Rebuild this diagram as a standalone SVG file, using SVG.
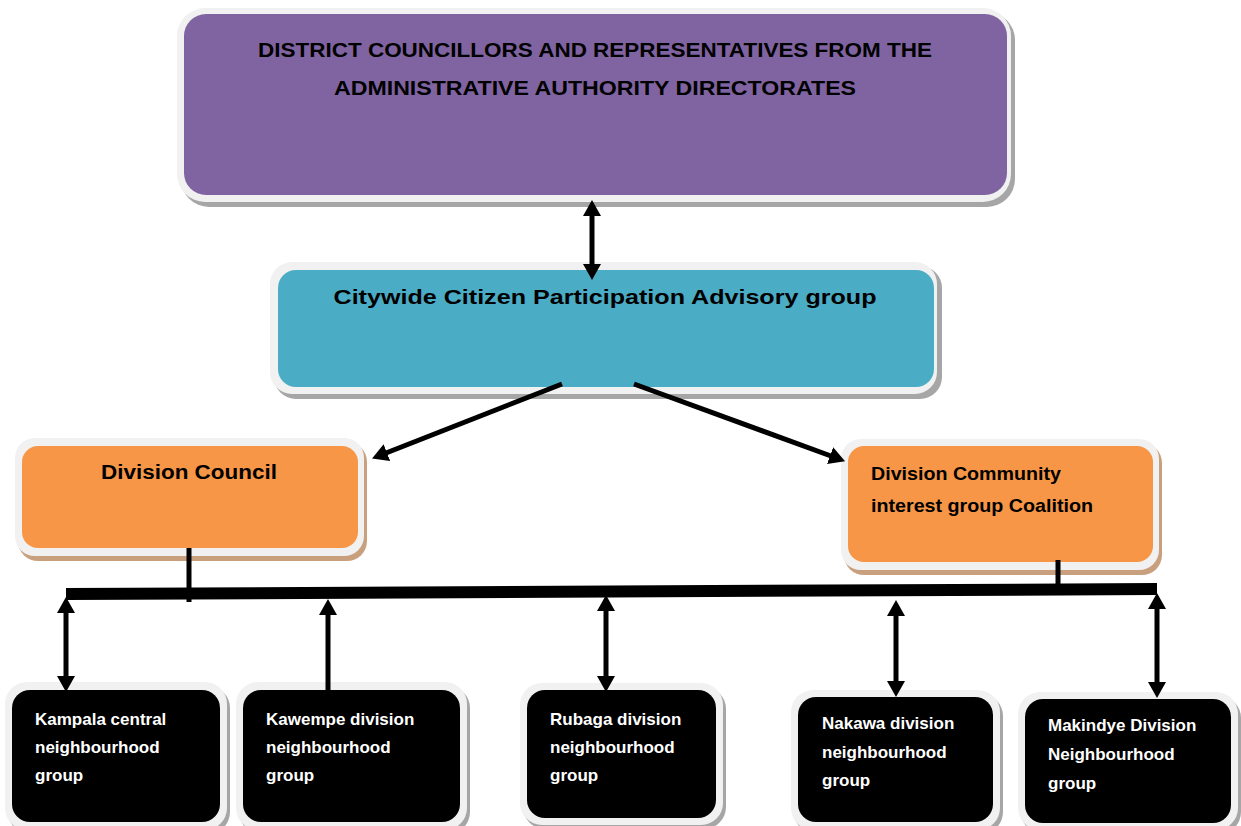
<svg xmlns="http://www.w3.org/2000/svg" width="1241" height="826" viewBox="0 0 1241 826">
<style>
.rim{fill:#f1f1f1}
.shg{fill:#a6a6a6}
.sho{fill:#c9a07e}
.t1{font-family:"Liberation Sans",Arial,sans-serif;font-weight:bold;fill:#000}
.t2{font-family:"Liberation Sans",Arial,sans-serif;font-weight:bold;fill:#fff;font-size:17px}
.ln{stroke:#000;stroke-width:5;fill:none}
.arr{stroke:#000;stroke-width:5;fill:none;marker-end:url(#ah)}
.arr2{stroke:#000;stroke-width:5;fill:none;marker-start:url(#ah);marker-end:url(#ah)}
</style>
<defs>
<marker id="ah" markerUnits="userSpaceOnUse" markerWidth="17" markerHeight="18" refX="1" refY="9" orient="auto-start-reverse" viewBox="0 0 17 18">
<path d="M0,0 L16,9 L0,18 z" fill="#000"/>
</marker>
</defs>
<rect width="1241" height="826" fill="#fff"/>

<g id="district">
<rect class="shg" x="181" y="12" width="834" height="195" rx="28"/>
<rect class="rim" x="177" y="8" width="834" height="194" rx="28"/>
<rect x="184" y="14" width="823" height="181" rx="22" fill="#8064a2"/>
<text class="t1" font-size="20" x="595" y="57" text-anchor="middle" textLength="674" lengthAdjust="spacingAndGlyphs">DISTRICT COUNCILLORS AND REPRESENTATIVES FROM THE</text>
<text class="t1" font-size="20" x="595" y="95" text-anchor="middle" textLength="522" lengthAdjust="spacingAndGlyphs">ADMINISTRATIVE AUTHORITY DIRECTORATES</text>
</g>

<g id="citywide">
<rect class="shg" x="274" y="266" width="668" height="133" rx="22"/>
<rect class="rim" x="270" y="262" width="667" height="132" rx="22"/>
<rect x="278" y="270" width="656" height="117" rx="18" fill="#4bacc6"/>
<text class="t1" font-size="21" x="605" y="304" text-anchor="middle" textLength="543" lengthAdjust="spacingAndGlyphs">Citywide Citizen Participation Advisory group</text>
</g>

<g id="division-council">
<rect class="sho" x="18" y="442" width="349" height="119" rx="20"/>
<rect class="rim" x="15" y="438" width="349" height="118" rx="20"/>
<rect x="22" y="446" width="336" height="102" rx="16" fill="#f79646"/>
<text class="t1" font-size="20" x="189" y="479" text-anchor="middle" textLength="176" lengthAdjust="spacingAndGlyphs">Division Council</text>
</g>

<g id="division-community">
<rect class="sho" x="844" y="443" width="318" height="132" rx="20"/>
<rect class="rim" x="841" y="439" width="318" height="131" rx="20"/>
<rect x="848" y="446" width="305" height="116" rx="16" fill="#f79646"/>
<text class="t1" font-size="19" x="871" y="480" textLength="190" lengthAdjust="spacingAndGlyphs">Division Community</text>
<text class="t1" font-size="19" x="871" y="512" textLength="222" lengthAdjust="spacingAndGlyphs">interest group Coalition</text>
</g>

<g id="kampala">
<rect class="shg" x="8" y="686" width="222" height="148" rx="22"/>
<rect class="rim" x="5" y="682" width="222" height="148" rx="22"/>
<rect x="12" y="690" width="208" height="132" rx="18" fill="#000"/>
<text class="t2" x="35" y="725">Kampala central</text>
<text class="t2" x="35" y="753">neighbourhood</text>
<text class="t2" x="35" y="781">group</text>
</g>

<g id="kawempe">
<rect class="shg" x="239" y="686" width="231" height="148" rx="22"/>
<rect class="rim" x="236" y="682" width="231" height="148" rx="22"/>
<rect x="243" y="690" width="217" height="132" rx="18" fill="#000"/>
<text class="t2" x="266" y="725">Kawempe division</text>
<text class="t2" x="266" y="753">neighbourhood</text>
<text class="t2" x="266" y="781">group</text>
</g>

<g id="rubaga">
<rect class="shg" x="523" y="687" width="203" height="142" rx="22"/>
<rect class="rim" x="520" y="683" width="203" height="142" rx="22"/>
<rect x="527" y="690" width="189" height="128" rx="18" fill="#000"/>
<text class="t2" x="550" y="725">Rubaga division</text>
<text class="t2" x="550" y="753">neighbourhood</text>
<text class="t2" x="550" y="781">group</text>
</g>

<g id="nakawa">
<rect class="shg" x="794" y="694" width="209" height="140" rx="22"/>
<rect class="rim" x="791" y="690" width="209" height="140" rx="22"/>
<rect x="798" y="697" width="195" height="125" rx="18" fill="#000"/>
<text class="t2" x="822" y="729">Nakawa division</text>
<text class="t2" x="822" y="758">neighbourhood</text>
<text class="t2" x="822" y="786">group</text>
</g>

<g id="makindye">
<rect class="shg" x="1021" y="696" width="220" height="138" rx="22"/>
<rect class="rim" x="1018" y="692" width="220" height="138" rx="22"/>
<rect x="1025" y="699" width="206" height="124" rx="18" fill="#000"/>
<text class="t2" x="1048" y="731">Makindye Division</text>
<text class="t2" x="1048" y="760">Neighbourhood</text>
<text class="t2" x="1048" y="789">group</text>
</g>

<g id="connectors">
<line class="arr2" x1="592" y1="215" x2="592" y2="265"/>
<line class="arr" x1="562" y1="384" x2="386" y2="453"/>
<line class="arr" x1="634" y1="384" x2="831" y2="456"/>
<line class="ln" x1="189" y1="548" x2="189" y2="602"/>
<line class="ln" x1="1058" y1="560" x2="1058" y2="590"/>
<line x1="66" y1="594" x2="1157" y2="589" stroke="#000" stroke-width="12"/>
<line class="arr2" x1="66" y1="612" x2="66" y2="677"/>
<line class="arr" x1="328" y1="690" x2="328" y2="614"/>
<line class="arr2" x1="606" y1="610" x2="606" y2="677"/>
<line class="arr2" x1="896" y1="615" x2="896" y2="682"/>
<line class="arr2" x1="1157" y1="608" x2="1157" y2="683"/>
</g>
</svg>
